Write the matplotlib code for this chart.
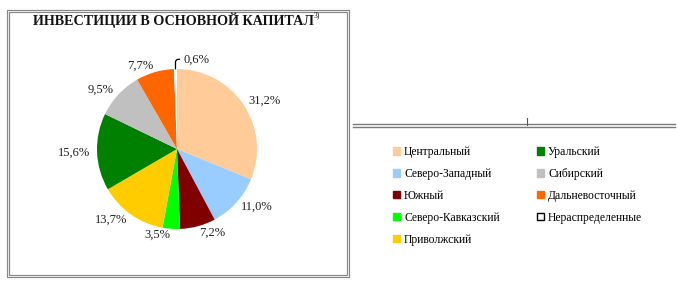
import matplotlib
matplotlib.use("Agg")
import matplotlib.pyplot as plt
from matplotlib.patches import Patch, Rectangle
from matplotlib.lines import Line2D
import numpy as np

title = "ИНВЕСТИЦИИ В ОСНОВНОЙ КАПИТАЛ"
title_note = "3)"
regions = ["Центральный", "Северо-Западный", "Южный", "Северо-Кавказский",
           "Приволжский", "Уральский", "Сибирский", "Дальневосточный",
           "Нераспределенные"]
shares = [31.2, 11.0, 7.2, 3.5, 13.7, 15.6, 9.5, 7.7, 0.6]
colors = ["#FFCC99", "#99CCFF", "#800000", "#00FF00", "#FFCC00",
          "#008000", "#C0C0C0", "#FF6600", "#FFFFFF"]

plt.rcParams['font.family'] = ['Liberation Serif', 'DejaVu Serif']

W, H = 682, 283
fig = plt.figure(figsize=(W / 100, H / 100), dpi=100)
fig.patch.set_facecolor("white")

def fx(px):
    return px / W

def fy(py):
    return 1 - py / H

# pie axes: centre (177,149) px, radius 80 px
cx, cy, r = 177, 149, 80
half = 90
ax = fig.add_axes([fx(cx - half), fy(cy + half), 2 * half / W, 2 * half / H])

labels = [f"{v:.1f}%".replace(".", ",") for v in shares]
pie_labels = labels[:-1] + [""]
wedges, texts = ax.pie(shares, colors=colors, startangle=90, counterclock=False,
                       labels=pie_labels, labeldistance=1.08, radius=1,
                       wedgeprops=dict(linewidth=0),
                       textprops=dict(fontsize=9, color="#222222"))
wedges[-1].set_edgecolor("white")
ax.set_xlim(-half / r, half / r)
ax.set_ylim(-half / r, half / r)
ax.set_aspect("equal")
ax.axis("off")

# last (tiny) slice label with leader
w = wedges[-1]
ang = np.deg2rad((w.theta1 + w.theta2) / 2)
ax.annotate(labels[-1], xy=(np.cos(ang) * 1.0, np.sin(ang) * 1.0),
            xytext=(6, 7), textcoords="offset points", ha="left", va="center",
            fontsize=9, color="#222222",
            arrowprops=dict(arrowstyle="-", color="black", lw=0.9,
                            connectionstyle="angle,angleA=0,angleB=90,rad=3",
                            shrinkA=1, shrinkB=0))

# title
fig.text(fx(33), fy(20), title, fontsize=10.15, fontweight="bold", ha="left", va="center",
         color="#111111")
fig.text(fx(314), fy(15), title_note, fontsize=5.5, ha="left", va="center", color="#111111")

# frame around chart (double grey line)
for off in (0, 2):
    fig.patches.append(Rectangle((fx(7 + off), fy(277 - off)), (342 - 2 * off) / W,
                                 (267 - 2 * off) / H, transform=fig.transFigure,
                                 fill=False, edgecolor="#8a8a8a", lw=0.9))

# horizontal double line on the right
for yy in (124, 127):
    fig.add_artist(Line2D([fx(353), fx(675)], [fy(yy), fy(yy)], transform=fig.transFigure,
                          color="#7a7a7a", lw=1.0))
fig.add_artist(Line2D([fx(527), fx(527)], [fy(118), fy(125)], transform=fig.transFigure,
                      color="#555555", lw=0.8))

# legend
handles = [Patch(facecolor=c, edgecolor=("black" if c == "#FFFFFF" else c), lw=1.0)
           for c in colors]
fig.legend(handles, regions, loc="upper left", bbox_to_anchor=(fx(393), fy(146)),
           ncol=2, frameon=False, fontsize=8.4, handlelength=0.6, handleheight=0.6,
           handletextpad=0.35, labelspacing=0.85, columnspacing=3.2, borderpad=0,
           borderaxespad=0)

fig.savefig("out.png", dpi=100, facecolor="white")
